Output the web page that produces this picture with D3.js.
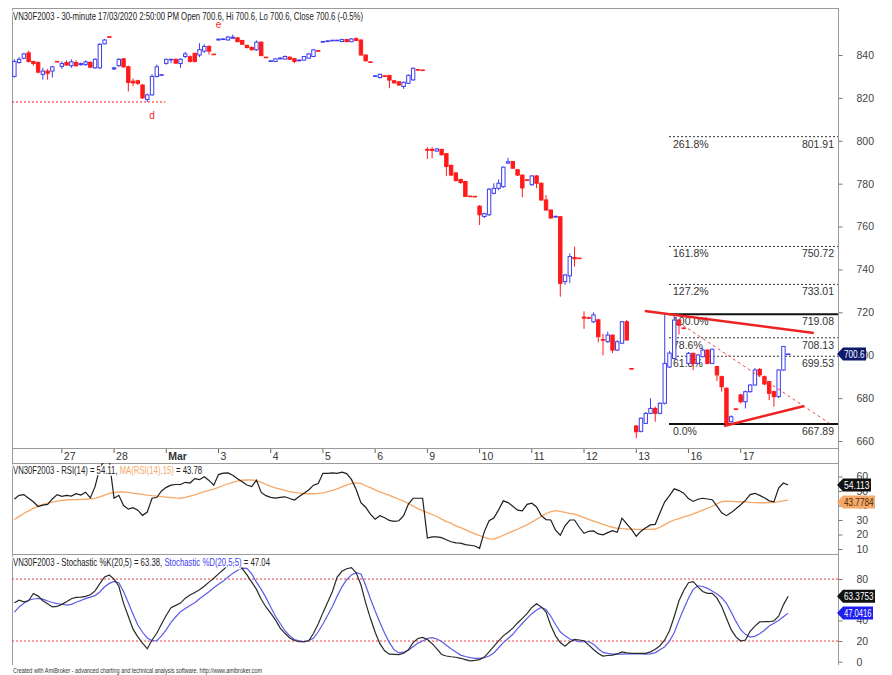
<!DOCTYPE html>
<html>
<head>
<meta charset="utf-8">
<script src="https://cdn.jsdelivr.net/npm/d3@7"></script>
<style>
  body { margin: 0; background: #fff; }
  svg { display: block; font-family: "Liberation Sans Narrow", "Arial Narrow", "Liberation Sans", Arial, sans-serif; }
</style>
</head>
<body>
<div id="chart"></div>
<script>
// Trading days shown (first one only partly) and bars per day (30-minute bars)
const days = ["26", "27", "28", "Mar", "3", "4", "5", "6", "9", "10", "11", "12", "13", "16", "17"];
const barsPerDay = [10, 11, 11, 11, 11, 11, 11, 11, 11, 11, 11, 11, 11, 11, 11];

// OHLC, one line per day
const open = [
  830, 836.5, 838.5, 841, 837, 836.5, 831, 832.5, 832.5, 837,
  834.7, 836.5, 835, 836.5, 835.5, 835.5, 836.6, 834, 834, 845.2, 848.5,
  833.5, 835, 838.2, 834.5, 827.8, 828, 826, 819.2, 821.4, 830, 830.5,
  836.1, 837.8, 838, 836, 839.3, 839.2, 840.8, 840, 841.8, 844, 840.4,
  847, 847.2, 847, 847.8, 848, 846.8, 844.5, 843.5, 842.4, 846, 839,
  837, 837, 838.2, 838.1, 839, 838.3, 837.3, 837.6, 838.5, 839.3, 842,
  846, 846.3, 846.6, 846.7, 846.3, 847.2, 846.2, 847.6, 847, 840, 836.8,
  830, 829.5, 830.3, 830.5, 828, 827.5, 825.3, 826.8, 828.4, 833.2, 833,
  796, 796, 795.2, 796, 794, 788.5, 785, 782, 781, 774.2, 774.1,
  769.5, 764.7, 765.5, 775.5, 777.8, 778.6, 789.6, 790.3, 786.5, 784, 781.8,
  779.5, 783.6, 780.2, 772.4, 767.7, 764.4, 764.6, 734.3, 737, 745.6, 745.3,
  717.8, 717.5, 715.6, 716.5, 707.3, 706.3, 709.4, 702.4, 705.6, 715.6, 693.8,
  667, 664.5, 668.2, 672.9, 675.2, 672.9, 677.6, 694.5, 698.5, 716.4, 712.7,
  696.2, 700.9, 696.2, 699.3, 702.4, 696.2, 694.7, 690, 684.6, 669, 675,
  681.5, 678.3, 683, 686.1, 693.4, 690, 687.7, 683, 680.7, 693.1, 700.6
];
const high = [
  838, 839, 841, 842, 837, 837, 834, 833.5, 835, 837.2,
  837, 837.5, 838, 837.5, 836.5, 837.5, 837, 838.5, 845.5, 847.5, 848.6,
  834.5, 838.5, 838.5, 835, 829, 828.5, 826.5, 822, 831, 835.5, 830.9,
  838.3, 838.2, 838.3, 838.5, 841.5, 839.8, 841, 845.5, 845, 844.5, 840.5,
  847.6, 847.8, 848.8, 849.5, 848.3, 847, 844.8, 844, 846.8, 846.3, 839,
  837.5, 838.5, 838.8, 839.8, 839.3, 838.5, 838, 839.5, 841, 842.8, 842.2,
  846.5, 846.8, 847, 847.1, 847.5, 847.5, 847.8, 848.2, 847.2, 840.2, 837,
  830.5, 831.3, 830.5, 830.7, 828.3, 827.8, 827.6, 831, 834.2, 833.3, 833.2,
  797, 797, 796.5, 796.2, 794.2, 789, 785.3, 782.2, 781.3, 774.3, 774.2,
  770, 766.5, 778, 780.2, 782, 788, 792, 790.5, 786.8, 784.2, 781.9,
  784, 784, 780.5, 774.7, 768, 765, 764.8, 738, 747.5, 750.6, 745.4,
  720.5, 718, 720, 717, 710, 711, 709.6, 707, 716, 716.5, 693.9,
  667.5, 671, 673.5, 679.9, 676, 678, 719.08, 702, 718.5, 717, 713,
  701.5, 701, 700.5, 703.5, 702.8, 703, 695, 690.5, 685, 672, 675.1,
  682, 683.5, 686.5, 694, 694, 690.5, 688, 683.5, 693.5, 704.3, 700.6
];
const low = [
  829.5, 836, 838, 836.5, 835, 831.5, 828.5, 828.5, 829.5, 836.8,
  833.5, 835, 834, 834.5, 835, 835, 834, 833.5, 833.5, 845, 848.2,
  833, 834.5, 834, 823, 825.5, 826, 819.5, 818, 821, 829.5, 830.4,
  835.5, 836.2, 836, 834, 838.5, 836.5, 836.5, 839, 841, 840.2, 840,
  846.8, 847, 846.8, 847.5, 846, 844.8, 843, 842, 842, 839.5, 838.6,
  836.8, 836.8, 838, 838, 837.8, 836.2, 837, 837.5, 838.3, 839, 841.8,
  845.8, 846, 846.4, 846.5, 846, 846, 846, 846.5, 839.8, 837, 836.5,
  829.8, 829, 829.8, 824.5, 826.7, 825.7, 824.2, 826.5, 828, 832.8, 832.8,
  791.5, 791.8, 795, 793, 783.5, 783.5, 781, 780, 773.8, 773.9, 773.8,
  760.7, 764, 765, 775, 777, 778, 789.4, 787, 783.5, 773.6, 781.5,
  779, 777.9, 772, 767.5, 763.7, 764.2, 727.3, 732.8, 733.6, 741.3, 745,
  712.3, 716.8, 715, 706, 700, 705.8, 701, 702, 705.3, 706.8, 693.5,
  661.3, 664, 668, 672.5, 669, 672.5, 677, 694, 698, 709.7, 712.4,
  695.5, 693.1, 695.8, 699, 695.8, 696, 688, 683, 667.89, 668.5, 674.6,
  677.5, 675.2, 682.5, 685.8, 690, 686, 679.1, 676, 680, 692.8, 700.6
];
const close = [
  837, 838, 840.5, 837, 836, 832, 832.5, 831.5, 834.5, 836.9,
  836, 835.3, 836.8, 835, 836, 836.8, 834.3, 838, 845, 847, 848.3,
  834, 838, 834.5, 827.2, 827, 826.8, 820, 821.4, 830, 834.5, 830.8,
  838, 838, 836.2, 838, 840.5, 837, 837, 842.5, 844, 841.8, 840.3,
  847.4, 847.5, 848.4, 848.3, 846.2, 845, 843.5, 842.5, 846, 839.7, 838.8,
  837.3, 838.2, 838.6, 839.3, 838, 837, 837.6, 839.3, 840.5, 842.4, 841.9,
  846.3, 846.6, 846.9, 846.9, 847.2, 846.2, 847.5, 846.8, 840, 837.3, 836.6,
  830.3, 831, 830, 828.3, 827, 826, 827.3, 830.5, 833.8, 833, 832.9,
  795.6, 795.5, 796.2, 793.5, 788, 784, 781.5, 780.5, 774, 774, 773.9,
  765.5, 766, 777.4, 777.8, 780.2, 787.7, 790.2, 787.2, 784, 778, 781.7,
  783.6, 780.2, 772.4, 767.7, 764, 764.8, 733.5, 737.4, 746, 745, 745.2,
  717.3, 717.2, 718.8, 708.6, 707, 709.4, 702.4, 706.3, 715.6, 707.1, 693.6,
  664.3, 670.6, 672.9, 675.2, 672.9, 677.6, 696.2, 701, 716.4, 714, 712.5,
  700.9, 696.2, 700.1, 702.4, 696.2, 702.8, 690.8, 685.3, 668.2, 671.3, 674.8,
  678.3, 683, 686.1, 693.1, 690.8, 686.6, 682.2, 680.7, 693.1, 704.1, 700.6
];

// RSI(14) and its 15-bar MA
const rsi = [
  44.5, 47, 47.5, 45, 42.6, 39.3, 40.2, 40.8, 44.5, 47.5,
  46.3, 47, 46.5, 48.2, 47.2, 49.2, 45.2, 53, 66, 71, 70.5,
  45, 47, 40, 37.5, 38.5, 36.8, 33.2, 35.5, 45, 45.5, 50,
  52.5, 54, 54.5, 54.5, 56, 55.5, 58.5, 57.8, 59.8, 57.3, 54,
  61.3, 62.3, 62.5, 60.8, 58.5, 56.3, 54.1, 53, 57.5, 49, 46.8,
  45.6, 45.1, 45.6, 46, 44.8, 43.8, 46.2, 48.5, 50.7, 54, 55.2,
  62.2, 62.2, 62.5, 62.2, 63, 62, 58, 51, 42, 38.8, 34,
  30.6, 33, 31.5, 29.7, 29, 29.5, 33, 41, 45, 45, 45,
  17.5, 18.3, 18.3, 17.8, 16.4, 15, 14.2, 14, 13, 12.6, 12.1,
  10.5, 22, 29.5, 31.4, 37, 43.2, 42, 39.5, 36.8, 36.3, 40.8,
  41.6, 39, 33, 30.3, 30, 23, 19.5, 26, 30, 30, 25,
  20.8, 22.2, 22.5, 20.4, 19.8, 21.3, 22.6, 21.5, 31.3, 27.4, 23.5,
  18.8, 22.3, 24.6, 26.6, 27, 35, 42.5, 46.8, 51.5, 50.3, 48.5,
  44.8, 42.8, 44.3, 45, 44.5, 44, 39.6, 35, 33, 35.1, 37.8,
  40.5, 43.5, 47.5, 48.4, 47, 45.3, 43.2, 42.5, 52, 55.5, 54.11
];
const rsiMa = [
  30.3, 32.5, 34.5, 36.3, 38, 39.6, 40.7, 41.6, 42.4, 43,
  43.5, 43.8, 44, 44.1, 44.2, 44.3, 44.6, 44.9, 46, 47.2, 48.3,
  48.9, 49.3, 49.4, 49, 48.6, 48.1, 47.7, 47.2, 46.8, 46.5, 46.1,
  45.8, 45.5, 45.2, 45, 45.6, 46.5, 47.4, 48.5, 49.6, 50.5, 51.3,
  52.5, 53.8, 55, 56, 56.8, 57.4, 57.6, 57.6, 57.3, 56, 54.5,
  53.2, 52.2, 51.3, 50.5, 49.6, 49, 48.5, 48.2, 48.1, 48.1, 48.3,
  48.7, 49.5, 50.4, 51.5, 52.8, 54.1, 55.2, 55.6, 55.2, 53.6, 52.3,
  50.8, 49.4, 48.2, 47, 45.6, 44.3, 43, 41.4, 39.6, 37.8, 36.4,
  35.1, 33.8, 32.4, 30.6, 28.9, 27.9, 26, 24.7, 23.3, 21.8, 20.5,
  19.3, 18, 17, 16.8, 18, 19.5, 21, 22.3, 23.6, 25.2, 26.6,
  28.5, 30.5, 32.5, 34.3, 35.8, 36.4, 36, 35.3, 34.6, 34, 32.8,
  31.6, 30.4, 29.3, 28.2, 27, 25.9, 25, 24.3, 24, 23.8, 23.7,
  23.6, 23.6, 23.6, 23.6, 23.8, 25, 26.8, 28.6, 30, 31, 32.1,
  33, 34.2, 35.5, 36.8, 38, 39.5, 41.2, 42.6, 43, 42.9, 42.7,
  42.6, 42.5, 42.2, 42, 41.9, 41.9, 42, 42.2, 42.6, 43.2, 43.78
];

// Stochastic %K(20,5) and %D(20,5,5)
const stochK = [
  57, 59.5, 58, 59, 66, 63.5, 59, 56, 53, 53.5,
  55.5, 58, 61, 62.3, 62.5, 63.3, 64.8, 68.5, 75.5, 82, 84,
  80, 73, 56.5, 44, 31.5, 24, 18, 12.5, 21, 27.5, 36.5,
  45, 52.3, 54.5, 56.7, 61.5, 64.5, 67, 69.6, 73, 77, 80.8,
  85, 89, 93, 96, 95, 90, 84, 77, 70, 60.5, 53,
  47, 40.5, 32.5, 27.5, 23, 20.5, 19.3, 19.3, 20.3, 27.3, 36.5,
  47.5, 57.5, 68, 82, 87.5, 90, 91, 86, 74.5, 57, 42,
  28.5, 17.5, 10.5, 7.3, 7, 6.8, 8.2, 11.5, 18.5, 22.5, 23.5,
  21.5, 17.5, 12.5, 7, 5.5, 4.8, 4.3, 3.3, 2, 0.8, 1.2,
  2, 4.5, 9.5, 14.8, 20.2, 25, 28.5, 32.5, 37.5, 42, 46.5,
  52.5, 56, 53, 48, 35, 25, 18.5, 15, 19, 21.5, 21,
  20.3, 16, 11.8, 8, 5.5, 6, 6.3, 7.5, 9.4, 8.5, 8,
  8, 8, 8, 9.5, 12, 15.5, 21, 30, 43.5, 59, 69,
  76.5, 77.5, 72.5, 68, 66.2, 66.2, 61.5, 53.5, 42, 31, 24,
  20, 21, 29.5, 34.5, 38.5, 38.7, 38.7, 39.5, 44, 55, 63.38
];
const stochD = [
  48, 53, 56.5, 59.5, 60.7, 61.2, 60.5, 58.8, 57.3, 56.3,
  55.6, 54.8, 55.5, 57.5, 59.3, 61, 62.5, 64, 67.5, 72.5, 75.8,
  77.8, 76.5, 68, 57, 46, 35.5, 28.5, 23, 20.3, 20.3, 25,
  31, 38, 43.5, 48.4, 51.5, 54.5, 57, 61, 64.3, 67.8, 71.5,
  75, 78, 82, 85.5, 88.5, 90.5, 90.4, 85, 77, 70, 62,
  53, 44, 37, 30, 25, 21.5, 20.3, 19.3, 20.5, 22.6, 29,
  36.5, 45, 53.5, 63.5, 72.5, 79.5, 84, 86.2, 84.9, 74, 61,
  49, 38, 27.5, 18.5, 11.5, 8.5, 9.2, 11, 14.5, 18, 20,
  22.5, 23.3, 22, 19.5, 16, 12.5, 9.5, 6.4, 5, 4, 3.2,
  3.3, 3.8, 5.5, 8.5, 13.5, 18.5, 22.5, 26.5, 32, 37, 42,
  46.5, 50, 52.6, 50.5, 44, 36, 29, 25, 22, 20.5, 19.5,
  19.3, 19.3, 17, 12.5, 9, 8, 7.4, 7.3, 7.4, 7.5, 7.5,
  7.5, 7.5, 7.4, 7.6, 8.8, 11.5, 14.5, 20, 28, 40, 51,
  61.5, 70, 73.5, 72.8, 71, 68.5, 65.5, 62, 56.5, 48, 39,
  31, 26.5, 23.8, 24.5, 27, 30.5, 34.5, 37.3, 39.8, 43.5, 47.04
];

// Axis ticks
const priceTicks = [660, 680, 700, 720, 740, 760, 780, 800, 820, 840];
const rsiTicks = [10, 20, 30, 40, 50, 60];
const stochTicks = [0, 20, 40, 80];
const stochBands = [20, 80];

// Fibonacci levels drawn from the 13 Mar swing
const fibLabels = ["261.8%", "161.8%", "127.2%", "100.0%", "78.6%", "61.8%", "0.0%"];
const fibValues = [801.91, 750.72, 733.01, 719.08, 708.13, 699.53, 667.89];
const fibStartBar = 137.9;

// Hand-drawn studies: [bar1, price1, bar2, price2]
const trendLines = [[132.8, 720.6, 168.4, 710.4], [149.5, 667.0, 166.4, 676.3]];
const guideLine = [139.8, 715.5, 171.6, 668.4];
const supportLevel = [-0.5, 818.1, 31.8];
const swingMarks = [["d", 29, 818.1], ["e", 43, 847.6]];

// Last values shown in the right margin
const lastClose = 700.6;
const lastRsi = 54.113, lastRsiMa = 43.7784;
const lastK = 63.3753, lastD = 47.0416;

// ---- layout
const width = 892, height = 675;
const left = 12, right = 838;
const mainTop = 8, mainBottom = 448, dateBottom = 463, rsiBottom = 554, stochBottom = 665;

const blue = "#3c3cf0", red = "#ff1a1a";

const svg = d3.select("#chart").append("svg")
    .attr("width", width)
    .attr("height", height)
    .attr("viewBox", [0, 0, width, height]);

const nBars = open.length;
const dayStart = [];
barsPerDay.reduce((acc, n) => { dayStart.push(acc); return acc + n; }, 0);

const x = d3.scaleLinear().domain([-0.5, 173.5]).range([left, right]);
const yPrice = d3.scaleLinear().domain([660, 840]).range([441, 55]);
const yRsi = d3.scaleLinear().domain([10, 70]).range([549, 462]);
const yStoch = d3.scaleLinear().domain([0, 100]).range([661.7, 558.4]);

// clip paths for the three panes
const defs = svg.append("defs");
[["clipMain", mainTop, mainBottom], ["clipRsi", dateBottom, rsiBottom], ["clipStoch", rsiBottom, stochBottom]]
    .forEach(([id, t, b]) => defs.append("clipPath").attr("id", id)
        .append("rect").attr("x", left).attr("y", t).attr("width", right - left).attr("height", b - t));

// ---- frame
const frame = svg.append("g").attr("stroke", "#9a9a9a").attr("stroke-width", 1);
[mainTop, mainBottom, dateBottom, rsiBottom].forEach(y =>
    frame.append("line").attr("x1", left).attr("x2", right).attr("y1", y + 0.5).attr("y2", y + 0.5));
frame.append("line").attr("x1", left + 0.5).attr("x2", left + 0.5).attr("y1", mainTop).attr("y2", stochBottom);
frame.append("line").attr("x1", right + 0.5).attr("x2", right + 0.5).attr("y1", mainTop).attr("y2", stochBottom);

// ---- right axes
function rightAxis(scale, ticks) {
    const g = svg.append("g")
        .attr("transform", `translate(${right + 0.5},0)`)
        .call(d3.axisRight(scale).tickValues(ticks).tickSize(4).tickPadding(14).tickFormat(d3.format("d")));
    g.select(".domain").remove();
    g.selectAll("line").attr("stroke", "#777");
    g.selectAll("text").attr("fill", "#444").attr("font-size", 10.5).attr("font-family", null);
    return g;
}
rightAxis(yPrice, priceTicks);
rightAxis(yRsi, rsiTicks);
rightAxis(yStoch, stochTicks);

// ---- date strip
const dates = svg.append("g").attr("font-size", 10.5).attr("fill", "#333");
days.forEach((d, i) => {
    if (i === 0) return;
    const xx = x(dayStart[i]);
    dates.append("line").attr("x1", xx).attr("x2", xx).attr("y1", mainBottom + 1).attr("y2", mainBottom + 5)
        .attr("stroke", "#666");
    dates.append("text").attr("x", xx + 2).attr("y", mainBottom + 12)
        .attr("font-weight", d === "Mar" ? "bold" : null).text(d);
});

// ---- main pane
const main = svg.append("g").attr("clip-path", "url(#clipMain)");

// Fibonacci
const fib = main.append("g");
fibValues.forEach((v, i) => {
    const solid = fibLabels[i] === "100.0%" || fibLabels[i] === "0.0%";
    fib.append("line")
        .attr("x1", x(fibStartBar)).attr("x2", right)
        .attr("y1", yPrice(v)).attr("y2", yPrice(v))
        .attr("stroke", solid ? "#111" : "#333")
        .attr("stroke-width", solid ? 2 : 1)
        .attr("stroke-dasharray", solid ? null : "2,2");
    fib.append("text").attr("x", x(fibStartBar) + 4).attr("y", yPrice(v) + 11)
        .attr("font-size", 10.5).attr("fill", "#333").text(fibLabels[i]);
    fib.append("text").attr("x", right - 4).attr("y", yPrice(v) + 11)
        .attr("text-anchor", "end").attr("font-size", 10.5).attr("fill", "#333").text(v.toFixed(2));
});

// support line and swing labels
main.append("line")
    .attr("x1", x(supportLevel[0])).attr("x2", x(supportLevel[2]))
    .attr("y1", yPrice(supportLevel[1])).attr("y2", yPrice(supportLevel[1]))
    .attr("stroke", red).attr("stroke-dasharray", "2,2");
swingMarks.forEach(([t, bar, price]) => {
    main.append("text").attr("x", x(bar)).attr("y", yPrice(price) + (t === "d" ? 17 : -11))
        .attr("text-anchor", "middle").attr("font-size", 10).attr("fill", red).text(t);
});

// candles
const candles = main.append("g").selectAll("g")
    .data(d3.range(nBars))
    .join("g")
    .attr("transform", i => `translate(${x(i)},0)`);
candles.append("line")
    .attr("y1", i => yPrice(high[i])).attr("y2", i => yPrice(low[i]))
    .attr("stroke", i => close[i] >= open[i] ? blue : red);
candles.append("rect")
    .attr("x", -1.7).attr("width", 3.4)
    .attr("y", i => yPrice(Math.max(open[i], close[i])))
    .attr("height", i => Math.max(0.6, Math.abs(yPrice(open[i]) - yPrice(close[i]))))
    .attr("fill", i => close[i] >= open[i] ? "#fff" : red)
    .attr("stroke", i => close[i] >= open[i] ? blue : red)
    .attr("stroke-width", 1);

// trendlines
main.append("g").selectAll("line")
    .data(trendLines)
    .join("line")
    .attr("x1", d => x(d[0])).attr("y1", d => yPrice(d[1]))
    .attr("x2", d => x(d[2])).attr("y2", d => yPrice(d[3]))
    .attr("stroke", "#ee2222").attr("stroke-width", 2.5);
main.append("line")
    .attr("x1", x(guideLine[0])).attr("y1", yPrice(guideLine[1]))
    .attr("x2", x(guideLine[2])).attr("y2", yPrice(guideLine[3]))
    .attr("stroke", "#ee4444").attr("stroke-width", 1).attr("stroke-dasharray", "3,3");

// ---- RSI pane
const rsiG = svg.append("g").attr("clip-path", "url(#clipRsi)");
const lineRsi = d3.line().x((d, i) => x(i)).y(d => yRsi(d));
rsiG.append("path").datum(rsiMa).attr("d", lineRsi)
    .attr("fill", "none").attr("stroke", "#f5a867").attr("stroke-width", 1.3);
rsiG.append("path").datum(rsi).attr("d", lineRsi)
    .attr("fill", "none").attr("stroke", "#1e1e1e").attr("stroke-width", 1.2);

// ---- Stochastic pane
const stG = svg.append("g").attr("clip-path", "url(#clipStoch)");
stochBands.forEach(v => stG.append("line")
    .attr("x1", left).attr("x2", right).attr("y1", yStoch(v)).attr("y2", yStoch(v))
    .attr("stroke", "#e83a3a").attr("stroke-dasharray", "2,2"));
const lineSt = d3.line().x((d, i) => x(i)).y(d => yStoch(d));
stG.append("path").datum(stochD).attr("d", lineSt)
    .attr("fill", "none").attr("stroke", "#5b5be8").attr("stroke-width", 1.2);
stG.append("path").datum(stochK).attr("d", lineSt)
    .attr("fill", "none").attr("stroke", "#2a2a2a").attr("stroke-width", 1.2);

// ---- titles (white halo hides the lines running under them, as AmiBroker does)
function title(y, parts, len, size) {
    const t = svg.append("text").attr("x", left + 1).attr("y", y).attr("font-size", size)
        .attr("textLength", len).attr("lengthAdjust", "spacingAndGlyphs")
        .attr("stroke", "#fff").attr("stroke-width", 3).attr("paint-order", "stroke")
        .attr("stroke-linejoin", "round");
    parts.forEach(([s, c]) => t.append("tspan").attr("fill", c).text(s));
}
title(mainTop + 12, [["VN30F2003 - 30-minute 17/03/2020 2:50:00 PM Open 700.6, Hi 700.6, Lo 700.6, Close 700.6 (-0.5%)", "#222"]], 350, 11.5);
title(dateBottom + 11, [["VN30F2003 - RSI(14) = 54.11, ", "#222"], ["MA(RSI(14),15)", "#f5a867"], [" = 43.78", "#222"]], 189, 11.5);
title(rsiBottom + 12, [["VN30F2003 - Stochastic %K(20,5) = 63.38, ", "#222"], ["Stochastic %D(20,5,5)", "#3c3cf0"], [" = 47.04", "#222"]], 257, 11.5);
title(height - 2, [["Created with AmiBroker - advanced charting and technical analysis software. http://www.amibroker.com", "#333"]], 249, 7.5);

// ---- last-value markers
function marker(y, label, fill, color, w) {
    const g = svg.append("g").attr("transform", `translate(${right - 1},${y})`);
    g.append("path")
        .attr("d", `M0,0 L6,-6.5 H${w} V6.5 H6 Z`)
        .attr("fill", fill);
    g.append("text").attr("x", 7).attr("y", 4).attr("font-size", 10.5).attr("fill", color)
        .attr("textLength", w - 8.5).attr("lengthAdjust", "spacingAndGlyphs").text(label);
}
marker(yPrice(lastClose), String(lastClose), "#0b1a6b", "#fff", 29);
marker(yRsi(lastRsi), lastRsi.toFixed(3), "#111", "#fff", 34);
marker(yRsi(lastRsiMa) + 2, lastRsiMa.toFixed(4), "#f5a867", "#4a2a10", 38);
marker(yStoch(lastK), lastK.toFixed(4), "#111", "#fff", 38);
marker(yStoch(lastD), lastD.toFixed(4), "#1e1ef0", "#fff", 36);
</script>
</body>
</html>
